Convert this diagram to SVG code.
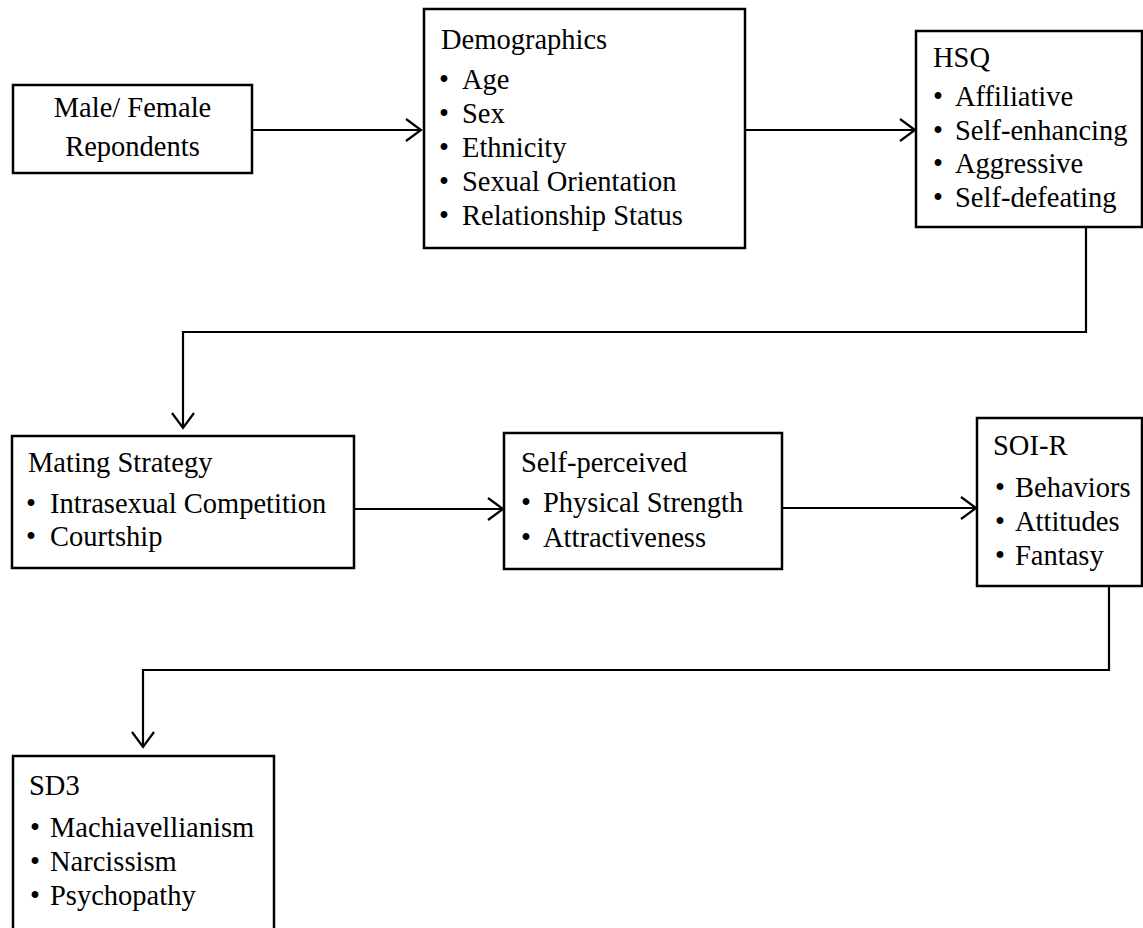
<svg xmlns="http://www.w3.org/2000/svg" width="1143" height="928" viewBox="0 0 1143 928">
<style>
.box{fill:#fff;stroke:#000;stroke-width:2.5}
.t{font-family:"Liberation Serif","Times New Roman",serif;font-size:28.5px;fill:#000}
.c{text-anchor:middle}
.ln{fill:none;stroke:#000;stroke-width:2.2}
</style>
<defs>
<marker id="ah" markerUnits="userSpaceOnUse" markerWidth="20" markerHeight="26" refX="16" refY="12" orient="auto" viewBox="0 0 20 24">
<path d="M1,1 L16,12 L1,23" fill="none" stroke="#000" stroke-width="2.2"/>
</marker>
</defs>
<rect width="1143" height="928" fill="#fff"/>
<g id="connectors">
<line class="ln" x1="252" y1="130" x2="421" y2="130" marker-end="url(#ah)"/>
<line class="ln" x1="745" y1="130" x2="915" y2="130" marker-end="url(#ah)"/>
<polyline class="ln" points="1086,227 1086,332 183,332 183,428" marker-end="url(#ah)"/>
<line class="ln" x1="354" y1="509" x2="503" y2="509" marker-end="url(#ah)"/>
<line class="ln" x1="782" y1="508" x2="976" y2="508" marker-end="url(#ah)"/>
<polyline class="ln" points="1109,586 1109,670 143,670 143,747" marker-end="url(#ah)"/>
</g>
<g id="respondents">
<rect class="box" x="13" y="85" width="239" height="88"/>
<text class="t c" x="132.5" y="117">Male/ Female</text>
<text class="t c" x="132.5" y="156">Repondents</text>
</g>
<g id="demographics">
<rect class="box" x="424" y="9" width="321" height="239"/>
<text class="t" x="441" y="49">Demographics</text>
<text class="t" x="439" y="89">•</text><text class="t" x="462" y="89">Age</text>
<text class="t" x="439" y="123">•</text><text class="t" x="462" y="123">Sex</text>
<text class="t" x="439" y="157">•</text><text class="t" x="462" y="157">Ethnicity</text>
<text class="t" x="439" y="191">•</text><text class="t" x="462" y="191">Sexual Orientation</text>
<text class="t" x="439" y="225">•</text><text class="t" x="462" y="225">Relationship Status</text>
</g>
<g id="hsq">
<rect class="box" x="916" y="31" width="226" height="196"/>
<text class="t" x="933" y="67">HSQ</text>
<text class="t" x="933" y="106">•</text><text class="t" x="955" y="106">Affiliative</text>
<text class="t" x="933" y="139.5">•</text><text class="t" x="955" y="139.5">Self-enhancing</text>
<text class="t" x="933" y="173">•</text><text class="t" x="955" y="173">Aggressive</text>
<text class="t" x="933" y="206.5">•</text><text class="t" x="955" y="206.5">Self-defeating</text>
</g>
<g id="mating">
<rect class="box" x="12" y="436" width="342" height="132"/>
<text class="t" x="28" y="472">Mating Strategy</text>
<text class="t" x="26" y="513">•</text><text class="t" x="50" y="513">Intrasexual Competition</text>
<text class="t" x="26" y="546">•</text><text class="t" x="50" y="546">Courtship</text>
</g>
<g id="selfperceived">
<rect class="box" x="504" y="433" width="278" height="136"/>
<text class="t" x="521" y="472">Self-perceived</text>
<text class="t" x="521" y="512">•</text><text class="t" x="543" y="512">Physical Strength</text>
<text class="t" x="521" y="547">•</text><text class="t" x="543" y="547">Attractiveness</text>
</g>
<g id="soir">
<rect class="box" x="977" y="418" width="165" height="168"/>
<text class="t" x="993" y="455">SOI-R</text>
<text class="t" x="995" y="497">•</text><text class="t" x="1015" y="497">Behaviors</text>
<text class="t" x="995" y="531">•</text><text class="t" x="1015" y="531">Attitudes</text>
<text class="t" x="995" y="565">•</text><text class="t" x="1015" y="565">Fantasy</text>
</g>
<g id="sd3">
<rect class="box" x="13" y="756" width="261" height="190"/>
<text class="t" x="29" y="795">SD3</text>
<text class="t" x="30" y="837">•</text><text class="t" x="50" y="837">Machiavellianism</text>
<text class="t" x="30" y="871">•</text><text class="t" x="50" y="871">Narcissism</text>
<text class="t" x="30" y="905">•</text><text class="t" x="50" y="905">Psychopathy</text>
</g>
</svg>
